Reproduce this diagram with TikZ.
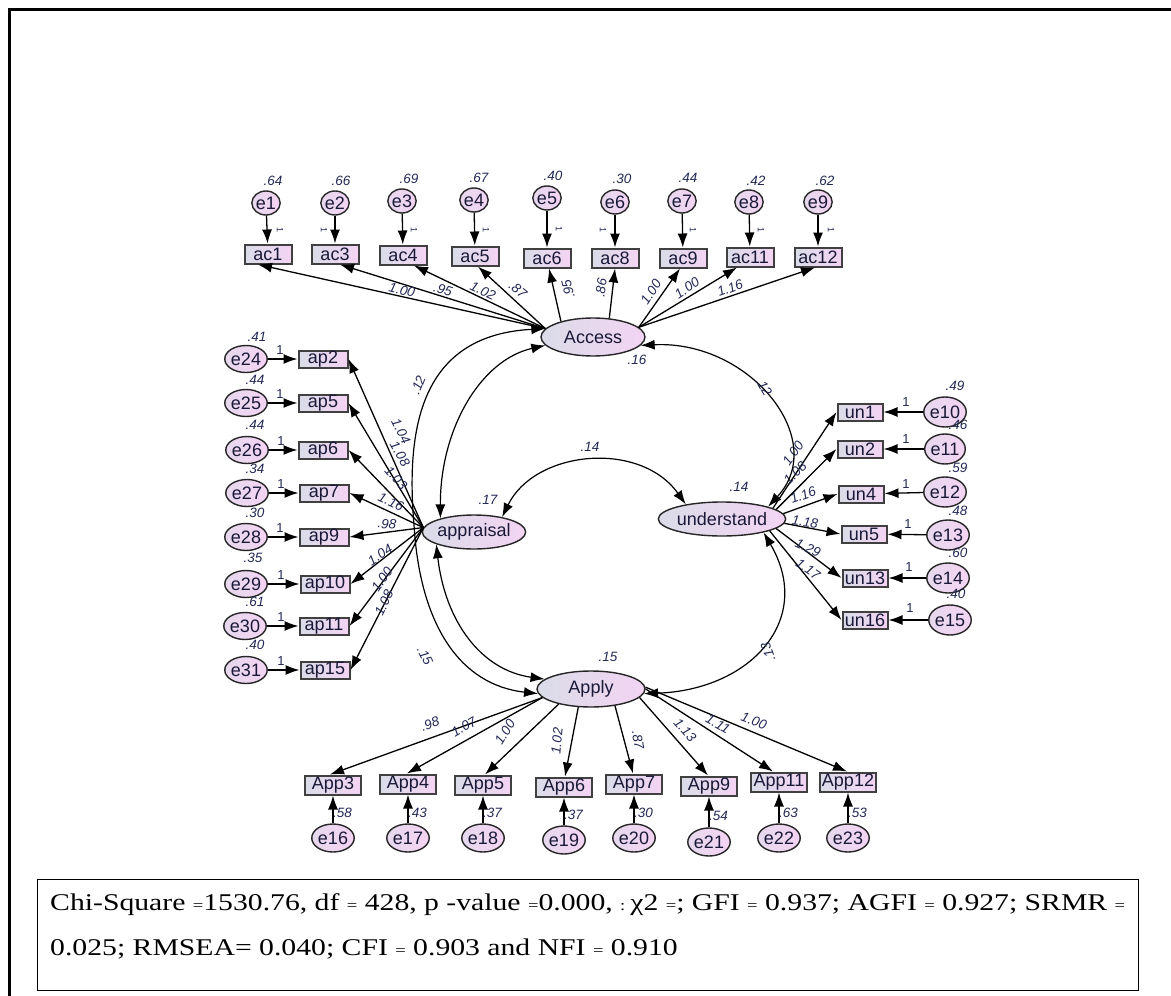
\documentclass[tikz,border=0pt]{standalone}
\usepackage{fontspec}
\setmainfont{Liberation Serif}
\setsansfont{Liberation Sans}
\usetikzlibrary{arrows.meta,shapes.geometric}
\definecolor{lg}{RGB}{218,220,232}
\definecolor{lp}{RGB}{243,212,243}
\definecolor{numc}{RGB}{35,40,85}
\definecolor{txtc}{RGB}{25,25,55}
\newcommand\seq{{\fontsize{15}{15}\selectfont =}}
\newcommand\scol{{\fontsize{15}{15}\selectfont :}}
\newcommand\chiLineA{Chi-Square \seq1530.76, df \seq\ 428, p -value \seq0.000, \scol\,χ2 \seq; GFI \seq\ 0.937; AGFI \seq\ 0.927; SRMR \seq}
\newcommand\chiLineB{0.025; RMSEA= 0.040; CFI \seq\ 0.903 and NFI \seq\ 0.910}
\newlength\chiw
\begin{document}
\settowidth{\chiw}{\fontsize{24}{26}\selectfont\chiLineA}
\pgfmathsetmacro{\chisx}{1075/\chiw}
\begin{tikzpicture}[x=1pt,y=-1pt,
  lab/.style={font=\sffamily\fontsize{18}{20}\selectfont, text=txtc},
  box/.style={lab, draw=black!75, line width=2pt, left color=lg, right color=lp, inner sep=0pt},
  obsT/.style={box, minimum width=47pt, minimum height=19pt},
  obsL/.style={box, minimum width=49pt, minimum height=17pt},
  obsR/.style={box, minimum width=45pt, minimum height=17pt},
  obsB/.style={box, minimum width=56pt, minimum height=19pt},
  circ/.style={lab, ellipse, draw=black!85, line width=1.4pt, left color=lg!50!lp, right color=lp, inner sep=0pt},
  errT/.style={circ, minimum width=26pt, minimum height=24pt},
  errL/.style={circ, minimum width=31pt, minimum height=27pt},
  errR/.style={circ, minimum width=32pt, minimum height=30pt},
  errB/.style={circ, minimum width=36pt, minimum height=28pt},
  lat/.style={lab, ellipse, draw=black!85, line width=1.4pt, left color=lg, right color=lp, inner sep=0pt},
  arr/.style={-{Latex[length=14pt,width=10pt]}, line width=1.3pt},
  cov/.style={{Latex[length=14pt,width=10pt]}-{Latex[length=14pt,width=10pt]}, line width=1.2pt},
  num/.style={font=\sffamily\itshape\fontsize{13.5}{14}\selectfont, text=numc, inner sep=0pt},
  one/.style={font=\sffamily\fontsize{13}{14}\selectfont, text=numc, inner sep=0pt},
  tick/.style={one, rotate=-90, font=\sffamily\fontsize{9}{10}\selectfont}
]
\useasboundingbox (0,0) rectangle (1171,996);
\fill[white] (0,0) rectangle (1171,996);
% outer frame
\draw[line width=3pt] (9,996) -- (9,9) -- (1171,9);

% ---------- latent variables
\node[lat, minimum width=104pt, minimum height=38pt] (Access) at (593,337) {Access};
\node[lat, minimum width=98pt, minimum height=34pt] (appraisal) at (474,532) {appraisal};
\node[lat, minimum width=102pt, minimum height=34pt] (understand) at (722,519) {understand};
\node[lat, minimum width=108pt, minimum height=36pt] (Apply) at (591,689) {Apply};

% ---------- top row
\node[errT] (e1) at (266,203) {e1};
\node[errT] (e2) at (335,203) {e2};
\node[errT] (e3) at (402,201) {e3};
\node[errT] (e4) at (474,200) {e4};
\node[errT] (e5) at (547,198) {e5};
\node[errT] (e6) at (615,202) {e6};
\node[errT] (e7) at (682,201) {e7};
\node[errT] (e8) at (749,202) {e8};
\node[errT] (e9) at (818,202) {e9};
\node[obsT] (ac1) at (268,254) {ac1};
\node[obsT] (ac3) at (335,254) {ac3};
\node[obsT] (ac4) at (403,255) {ac4};
\node[obsT] (ac5) at (475,256) {ac5};
\node[obsT] (ac6) at (547,258) {ac6};
\node[obsT] (ac8) at (615,258) {ac8};
\node[obsT] (ac9) at (683,258) {ac9};
\node[obsT] (ac11) at (750,257) {ac11};
\node[obsT] (ac12) at (818,257) {ac12};
\foreach \a/\b in {e1/ac1,e2/ac3,e3/ac4,e4/ac5,e5/ac6,e6/ac8,e7/ac9,e8/ac11,e9/ac12}
  \draw[arr] (\a) -- (\b);
\node[num] (v1) at (273,181) {.64};
\node[num] (v2) at (341,181) {.66};
\node[num] (v3) at (409,179) {.69};
\node[num] (v4) at (479,178) {.67};
\node[num] (v5) at (553,176) {.40};
\node[num] (v6) at (622,179) {.30};
\node[num] (v7) at (688,178) {.44};
\node[num] (v8) at (756,181) {.42};
\node[num] (v9) at (825,181) {.62};
\node[tick] (o1) at (280,230) {1};
\node[tick] (o2) at (324,230) {1};
\node[tick] (o3) at (414,230) {1};
\node[tick] (o4) at (486,230) {1};
\node[tick] (o5) at (559,229) {1};
\node[tick] (o6) at (603,230) {1};
\node[tick] (o7) at (693,230) {1};
\node[tick] (o8) at (761,230) {1};
\node[tick] (o9) at (831,230) {1};
% Access loadings
\draw[arr] (Access.170) -- ([xshift=-10pt]ac1.south);
\draw[arr] (Access.170) -- ([xshift=5pt]ac3.south);
\draw[arr] (Access.170) -- ([xshift=11pt]ac4.south);
\draw[arr] (Access.170) -- ([xshift=3pt]ac5.south);
\draw[arr] (Access.154) -- ([xshift=2pt]ac6.south);
\draw[arr] (Access.49) -- (ac8.south);
\draw[arr] (Access.12) -- ([xshift=-3pt]ac9.south);
\draw[arr] (Access.12) -- ([xshift=-13pt]ac11.south);
\draw[arr] (Access.12) -- ([xshift=-3pt]ac12.south);
\node[num, rotate=-13] (la1) at (402,290) {1.00};
\node[num, rotate=-17] (la3) at (443,290) {.95};
\node[num, rotate=-25] (la4) at (483,291) {1.02};
\node[num, rotate=-40] (la5) at (518,290) {.87};
\node[num, rotate=104] (la6) at (568,289) {.95};
\node[num, rotate=82] (la8) at (601,288) {.86};
\node[num, rotate=57] (la9) at (651,292) {1.00};
\node[num, rotate=34] (la11) at (687,288) {1.00};
\node[num, rotate=20] (la12) at (730,288) {1.16};

% ---------- left column
\node[obsL] (ap2) at (323,359) {ap2};
\node[obsL] (ap5) at (323,403) {ap5};
\node[obsL] (ap6) at (323,450) {ap6};
\node[obsL] (ap7) at (324,493) {ap7};
\node[obsL] (ap9) at (324,537) {ap9};
\node[obsL] (ap10) at (325,584) {ap10};
\node[obsL] (ap11) at (324,626) {ap11};
\node[obsL] (ap15) at (325,670) {ap15};
\node[errL] (e24) at (246,359) {e24};
\node[errL] (e25) at (246,403) {e25};
\node[errL] (e26) at (247,450) {e26};
\node[errL] (e27) at (247,493) {e27};
\node[errL] (e28) at (246,537) {e28};
\node[errL] (e29) at (246,584) {e29};
\node[errL] (e30) at (245,626) {e30};
\node[errL] (e31) at (246,670) {e31};
\foreach \a/\b in {e24/ap2,e25/ap5,e26/ap6,e27/ap7,e28/ap9,e29/ap10,e30/ap11,e31/ap15}
  \draw[arr] (\a) -- (\b);
\node[num] (v24) at (257,337) {.41};
\node[num] (v25) at (255,380) {.44};
\node[num] (v26) at (255,425) {.44};
\node[num] (v27) at (255,469) {.34};
\node[num] (v28) at (255,513) {.30};
\node[num] (v29) at (253,558) {.35};
\node[num] (v30) at (255,602) {.61};
\node[num] (v31) at (255,645) {.40};
\node[one] (o24) at (280,350) {1};
\node[one] (o25) at (280,394) {1};
\node[one] (o26) at (281,441) {1};
\node[one] (o27) at (281,484) {1};
\node[one] (o28) at (280,528) {1};
\node[one] (o29) at (281,575) {1};
\node[one] (o30) at (281,617) {1};
\node[one] (o31) at (281,661) {1};
\foreach \b in {ap2,ap5,ap6,ap7,ap9,ap10,ap11,ap15}
  \draw[arr] (appraisal.175) -- (\b.east);
\node[num, rotate=-63] (lp2) at (401,431) {1.04};
\node[num, rotate=-60] (lp5) at (400,454) {1.08};
\node[num, rotate=-48] (lp6) at (396,478) {1.03};
\node[num, rotate=-25] (lp7) at (391,502) {1.16};
\node[num, rotate=-5] (lp9) at (387,524) {.98};
\node[num, rotate=33] (lp10) at (380,555) {1.04};
\node[num, rotate=55] (lp11) at (382,579) {1.00};
\node[num, rotate=65] (lp15) at (384,603) {1.08};

% ---------- right column
\node[obsR] (un1) at (860,412) {un1};
\node[obsR] (un2) at (860,449) {un2};
\node[obsR] (un4) at (861,494) {un4};
\node[obsR] (un5) at (864,534) {un5};
\node[obsR] (un13) at (865,578) {un13};
\node[obsR] (un16) at (865,620) {un16};
\node[errR] (e10) at (945,412) {e10};
\node[errR] (e11) at (945,449) {e11};
\node[errR] (e12) at (945,492) {e12};
\node[errR] (e13) at (948,535) {e13};
\node[errR] (e14) at (948,578) {e14};
\node[errR] (e15) at (950,620) {e15};
\foreach \a/\b in {e10/un1,e11/un2,e12/un4,e13/un5,e14/un13,e15/un16}
  \draw[arr] (\a) -- (\b);
\node[num] (v10) at (955,386) {.49};
\node[num] (v11) at (958,425) {.46};
\node[num] (v12) at (958,468) {.59};
\node[num] (v13) at (958,511) {.48};
\node[num] (v14) at (958,553) {.60};
\node[num] (v15) at (956,594) {.40};
\node[one] (o10) at (906,402) {1};
\node[one] (o11) at (906,439) {1};
\node[one] (o12) at (906,484) {1};
\node[one] (o13) at (908,524) {1};
\node[one] (o14) at (909,567) {1};
\node[one] (o15) at (910,608) {1};
\draw[arr] (understand.12) -- (un1.west);
\draw[arr] (understand.10) -- (un2.west);
\draw[arr] (understand.5) -- (un4.west);
\draw[arr] (understand.-4) -- (un5.west);
\draw[arr] (understand.-10) -- (un13.west);
\draw[arr] (understand.-14) -- (un16.west);
\node[num, rotate=55] (lu1) at (793,453) {1.00};
\node[num, rotate=45] (lu2) at (795,473) {1.08};
\node[num, rotate=20] (lu4) at (803,495) {1.16};
\node[num, rotate=-8] (lu5) at (805,522) {1.18};
\node[num, rotate=-25] (lu13) at (808,548) {1.29};
\node[num, rotate=-35] (lu16) at (808,569) {1.17};

% ---------- bottom row
\node[obsB] (App3) at (333,785) {App3};
\node[obsB] (App4) at (408,784) {App4};
\node[obsB] (App5) at (483,785) {App5};
\node[obsB] (App6) at (564,787) {App6};
\node[obsB] (App7) at (634,784) {App7};
\node[obsB] (App9) at (709,786) {App9};
\node[obsB] (App11) at (779,782) {App11};
\node[obsB] (App12) at (848,782) {App12};
\node[errB] (e16) at (333,838) {e16};
\node[errB] (e17) at (408,838) {e17};
\node[errB] (e18) at (483,838) {e18};
\node[errB] (e19) at (564,840) {e19};
\node[errB] (e20) at (634,838) {e20};
\node[errB] (e21) at (709,842) {e21};
\node[errB] (e22) at (779,838) {e22};
\node[errB] (e23) at (848,838) {e23};
\foreach \a/\b in {e16/App3,e17/App4,e18/App5,e19/App6,e20/App7,e21/App9,e22/App11,e23/App12}
  \draw[arr] (\a) -- (\b);
\node[num, anchor=west] (v16) at (333,813) {.58};
\node[num, anchor=west] (v17) at (408,813) {.43};
\node[num, anchor=west] (v18) at (483,813) {.37};
\node[num, anchor=west] (v19) at (564,815) {.37};
\node[num, anchor=west] (v20) at (634,813) {.30};
\node[num, anchor=west] (v21) at (709,816) {.54};
\node[num, anchor=west] (v22) at (779,813) {.63};
\node[num, anchor=west] (v23) at (848,813) {.53};
\draw[arr] (Apply.190) -- ([xshift=-3pt]App3.north);
\draw[arr] (Apply.190) -- ([xshift=-1pt]App4.north);
\draw[arr] (Apply.205) -- ([xshift=2pt]App5.north);
\draw[arr] (Apply.235) -- ([xshift=1pt]App6.north);
\draw[arr] (Apply.325) -- ([xshift=-1pt]App7.north);
\draw[arr] (Apply.350) -- ([xshift=-1pt]App9.north);
\draw[arr] (Apply.0) -- ([xshift=-6pt]App11.north);
\draw[arr] (Apply.2) -- ([xshift=-1pt]App12.north);
\node[num, rotate=21] (ly3) at (430,724) {.98};
\node[num, rotate=30] (ly4) at (464,727) {1.07};
\node[num, rotate=58] (ly5) at (505,732) {1.00};
\node[num, rotate=85] (ly6) at (557,741) {1.02};
\node[num, rotate=-80] (ly7) at (638,740) {.87};
\node[num, rotate=-48] (ly9) at (685,730) {1.13};
\node[num, rotate=-30] (ly11) at (718,724) {1.11};
\node[num, rotate=-20] (ly12) at (754,721) {1.00};

% ---------- covariances
\draw[cov] (Access.170) .. controls (425,335) and (405,420) .. (414,525)
   .. controls (420,625) and (460,685) .. (Apply.185);
\draw[cov] (appraisal.158) .. controls (440,430) and (480,360) .. (Access.190);
\draw[cov] (appraisal.198) .. controls (445,620) and (480,670) .. (Apply.168);
\draw[cov] (appraisal.28) .. controls (535,450) and (640,440) .. (understand.158);
\draw[cov] (Access.-10) .. controls (750,340) and (830,440) .. (understand.15);
\draw[cov] (understand.-18) .. controls (815,620) and (750,690) .. (Apply.-5);
\node[num, rotate=68] (c1) at (418,385) {.12};
\node[num, rotate=-62] (c2) at (425,656) {.15};
\node[num] (c3) at (590,447) {.14};
\node[num, rotate=-60] (c4) at (764,387) {.12};
\node[num, rotate=110] (c5) at (768,652) {.13};
% latent variances
\node[num] (vA) at (637,360) {.16};
\node[num] (vP) at (488,500) {.17};
\node[num] (vU) at (739,487) {.14};
\node[num] (vY) at (608,657) {.15};

% ---------- fit box
\node[draw, line width=1.3pt, minimum width=1101pt, minimum height=111pt, inner sep=0pt, anchor=north west] (fit) at (37,879) {};
\node[anchor=base west, inner sep=0pt] (fit1) at (50,910) {\scalebox{\chisx}[1]{\fontsize{24}{26}\selectfont\chiLineA}};
\node[anchor=base west, inner sep=0pt] (fit2) at (50,955) {\scalebox{\chisx}[1]{\fontsize{24}{26}\selectfont\chiLineB}};
\end{tikzpicture}
\end{document}
